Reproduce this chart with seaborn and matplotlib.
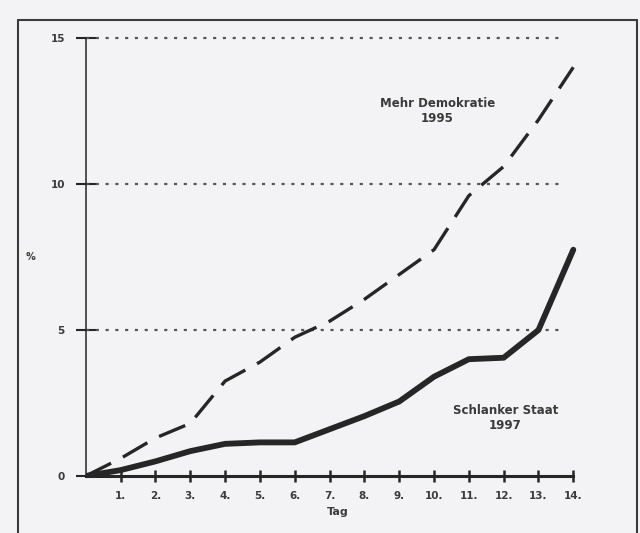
import matplotlib
matplotlib.use("Agg")
import matplotlib.pyplot as plt
import seaborn as sns
import pandas as pd
from matplotlib.lines import Line2D

days = list(range(0, 15))
tick_labels = [f"{d}." for d in range(1, 15)]
schlanker_staat = [0, 0.2, 0.5, 0.85, 1.1, 1.15, 1.15, 1.6, 2.05, 2.55, 3.4, 4.0, 4.05, 5.0, 7.75]
mehr_demokratie = [0, 0.6, 1.3, 1.8, 3.25, 3.9, 4.75, 5.3, 6.05, 6.9, 7.75, 9.6, 10.6, 12.2, 14.0]
y_ticks = [0, 5, 10, 15]

df = pd.DataFrame({"Tag": days, "Schlanker Staat": schlanker_staat,
                   "Mehr Demokratie": mehr_demokratie})

sns.set_style("white")
plt.rcParams['font.family'] = ['DejaVu Sans']

bg = "#f3f3f5"
ink = "#262626"
txt = "#3a3a3a"
fig = plt.figure(figsize=(6.4, 5.33), dpi=100, facecolor=bg)
ax = fig.add_axes([0.134, 0.107, 0.789, 0.849])
ax.set_facecolor(bg)

for y in y_ticks[1:]:
    ax.plot([0, 13.7], [y, y], color="#555555", lw=1.6, ls=(0, (1.4, 3.0)), zorder=1)

sns.lineplot(data=df, x="Tag", y="Mehr Demokratie", ax=ax, color=ink, lw=2.4,
             dashes=False, zorder=3)
ax.lines[-1].set_dashes((8.5, 4))
sns.lineplot(data=df, x="Tag", y="Schlanker Staat", ax=ax, color=ink, lw=4.2, zorder=4)

ax.set_xlim(0, 14.5)
ax.set_ylim(0, 15.5)

for s in ["top", "right"]:
    ax.spines[s].set_visible(False)
ax.spines["left"].set_bounds(0, 15)
ax.spines["left"].set_color(ink)
ax.spines["left"].set_linewidth(1.1)
ax.spines["bottom"].set_bounds(0, 14)
ax.spines["bottom"].set_color(ink)
ax.spines["bottom"].set_linewidth(2.2)

ax.set_yticks(y_ticks)
ax.set_yticklabels([str(v) for v in y_ticks], fontsize=7.5, fontweight="bold", color=txt)
ax.tick_params(axis="y", left=True, direction="inout", length=14, width=1.5, color=ink, pad=8)
ax.set_xticks(range(1, 15))
ax.set_xticklabels(tick_labels, fontsize=7.5, fontweight="bold", color=txt)
ax.tick_params(axis="x", bottom=True, direction="inout", length=9, width=1.8, color=ink, pad=6)

ax.set_xlabel("Tag", fontsize=8, fontweight="bold", color=txt, labelpad=5)
ax.set_ylabel("")
ax.text(-1.6, 7.5, "%", fontsize=7, fontweight="bold", color=txt, ha="center", va="center")

ax.text(10.1, 12.5, "Mehr Demokratie\n1995", fontsize=8.5, fontweight="bold",
        color=txt, ha="center", va="center", linespacing=1.2)
ax.text(12.05, 2.0, "Schlanker Staat\n1997", fontsize=8.5, fontweight="bold",
        color=txt, ha="center", va="center", linespacing=1.2)

# scanned page frame
fc = "#3a3a3a"
fig.add_artist(Line2D([18/640, 18/640], [0, 1 - 20/533], color=fc, lw=1.5))
fig.add_artist(Line2D([18/640, 637/640], [1 - 20/533, 1 - 20/533], color=fc, lw=1.5))
fig.add_artist(Line2D([637/640, 637/640], [0, 1 - 20/533], color=fc, lw=1.5))

fig.savefig("out.png", dpi=100, facecolor=bg)
